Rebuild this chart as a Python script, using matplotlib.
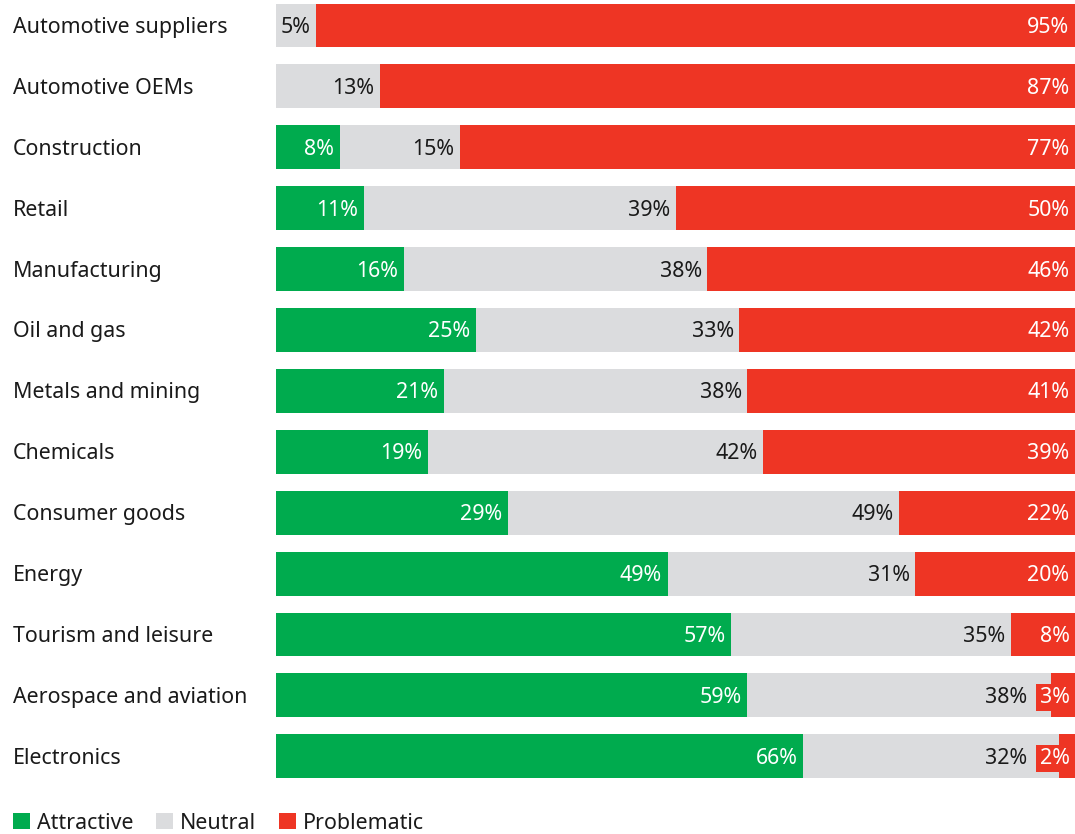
import matplotlib
matplotlib.use("Agg")
import matplotlib.pyplot as plt
from matplotlib.patches import Patch
import numpy as np

plt.rcParams['font.family'] = ['Noto Sans', 'DejaVu Sans']

categories = [
    "Automotive suppliers", "Automotive OEMs", "Construction", "Retail",
    "Manufacturing", "Oil and gas", "Metals and mining", "Chemicals",
    "Consumer goods", "Energy", "Tourism and leisure",
    "Aerospace and aviation", "Electronics",
]
attractive = [0, 0, 8, 11, 16, 25, 21, 19, 29, 49, 57, 59, 66]
neutral = [5, 13, 15, 39, 38, 33, 38, 42, 49, 31, 35, 38, 32]
problematic = [95, 87, 77, 50, 46, 42, 41, 39, 22, 20, 8, 3, 2]

series_names = ["Attractive", "Neutral", "Problematic"]
colors = ["#00AB4E", "#DBDCDE", "#EE3524"]
text_colors = ["white", "#1a1a1a", "white"]

W, H = 1075, 834
fig = plt.figure(figsize=(W / 100, H / 100), dpi=100)
ax = fig.add_axes([276 / W, 1 - 790 / H, 1 - 276 / W, 790 / H])
ax.set_xlim(0, 100)
ax.set_ylim(12.553, -0.419)
ax.axis('off')

y = np.arange(len(categories))
fs = 15.4
pad_pt = -4.0
dy_pt = -1.4

series = [np.array(s, dtype=float) for s in (attractive, neutral, problematic)]
lefts = [np.zeros(len(y)), series[0].copy(), series[0] + series[1]]

for vals, left, col in zip(series, lefts, colors):
    ax.barh(y, vals, left=left, height=0.72, color=col, edgecolor='none')

renderer = fig.canvas.get_renderer()

# problematic labels first, with a red backing box so short segments stay legible
red_left_px = {}
for yi, l, v in zip(y, lefts[2], series[2]):
    if v <= 0:
        continue
    t = ax.annotate(f"{int(v)}%", xy=(l + v, yi), xytext=(pad_pt, dy_pt),
                    textcoords='offset points', ha='right', va='center',
                    fontsize=fs, color=text_colors[2], zorder=4,
                    bbox=dict(boxstyle='square,pad=0.15', fc=colors[2], ec='none'))
    t.draw(renderer)
    red_left_px[yi] = t.get_bbox_patch().get_window_extent(renderer).x0

# attractive and neutral labels; a neutral label steps aside if the red label would cover it
for k in (0, 1):
    for yi, l, v in zip(y, lefts[k], series[k]):
        if v <= 0:
            continue
        end_px = ax.transData.transform((l + v, yi))[0]
        shift = 0.0
        if k == 1:
            want = end_px + pad_pt * 100 / 72
            limit = red_left_px[yi] - 9
            if want > limit:
                shift = (limit - want) * 72 / 100
        ax.annotate(f"{int(v)}%", xy=(l + v, yi), xytext=(pad_pt + shift, dy_pt),
                    textcoords='offset points', ha='right', va='center',
                    fontsize=fs, color=text_colors[k], zorder=3)

for yi, cat in zip(y, categories):
    ax.annotate(cat, xy=(0, yi), xycoords=('figure fraction', 'data'),
                xytext=(9.4, dy_pt), textcoords='offset points',
                ha='left', va='center', fontsize=fs, color='#1a1a1a')

handles = [Patch(facecolor=c, edgecolor='none') for c in colors]
fig.legend(handles, series_names, loc='lower left',
           bbox_to_anchor=(-0.004, -0.020), ncol=3, frameon=False,
           fontsize=fs, handlelength=0.8, handleheight=0.8,
           handletextpad=0.33, columnspacing=1.05, borderpad=0.3,
           labelcolor='#1a1a1a')

fig.savefig("out.png", dpi=100)
